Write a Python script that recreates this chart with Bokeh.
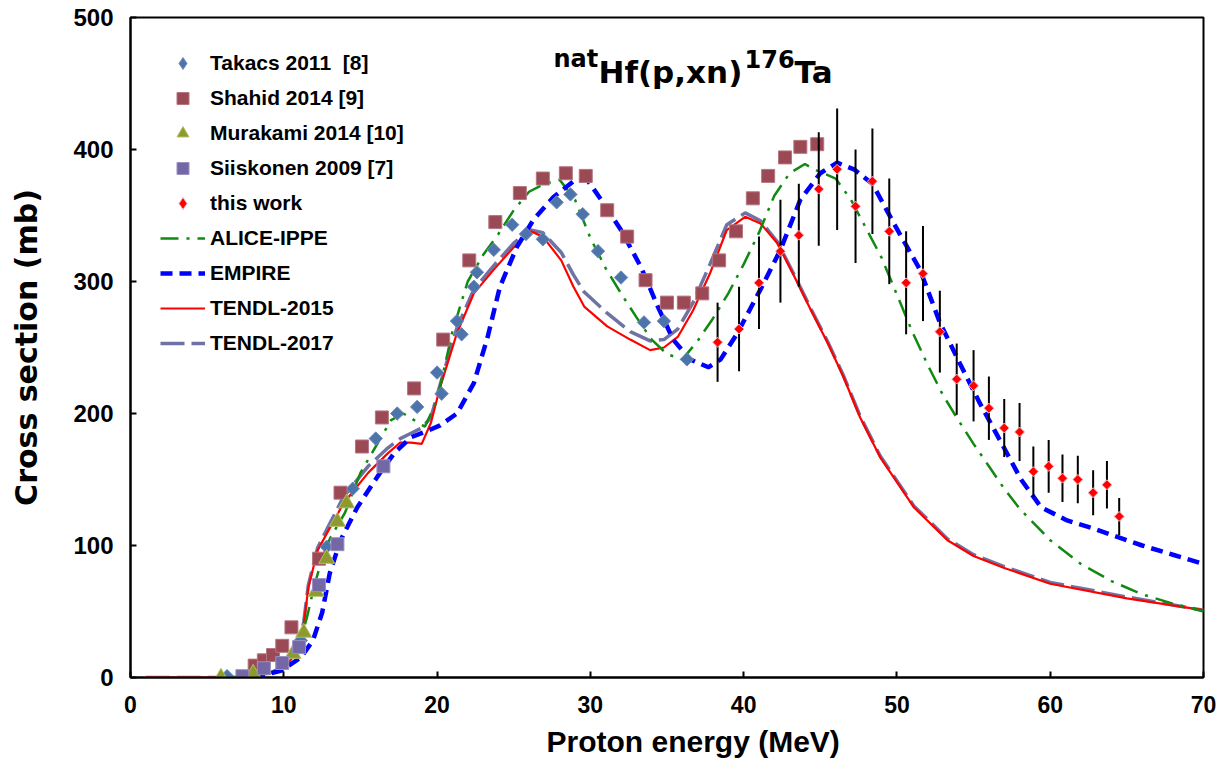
import math
from bokeh.plotting import figure
from bokeh.models import Legend, LegendItem, Label, Range1d, FixedTicker, Title
from bokeh.embed import file_html
from bokeh.resources import INLINE

# ---------------- data ----------------
x_ticks = [0, 10, 20, 30, 40, 50, 60, 70]
y_ticks = [0, 100, 200, 300, 400, 500]

takacs_E = [6.3, 11.1, 12.8, 14.5, 16.0, 17.4, 18.7, 20.0, 20.3, 21.3, 21.6, 22.4, 22.6, 23.7,
            24.9, 25.8, 26.9, 27.8, 28.7, 29.5, 30.5, 32.0, 33.5, 34.8, 36.3]
takacs_s = [1, 28, 99, 143, 181, 200, 205, 231, 215, 270, 260, 296, 307, 324,
            343, 336, 332, 360, 366, 351, 323, 303, 269, 270, 241]

shahid_E = [8.1, 8.7, 9.3, 9.9, 10.5, 12.3, 13.7, 15.1, 16.4, 18.5, 20.4, 22.1, 23.8, 25.4, 26.9,
            28.4, 29.7, 31.1, 32.4, 33.6, 35.0, 36.1, 37.3, 38.4, 39.5, 40.6, 41.6, 42.7, 43.7, 44.8]
shahid_s = [9, 13, 17, 24, 38, 90, 140, 175, 197, 219, 256, 316, 345, 367, 378,
            382, 380, 354, 334, 301, 284, 284, 291, 316, 338, 363, 380, 394, 402, 404]

murakami_E = [5.9, 8.0, 10.6, 11.3, 12.1, 12.8, 13.5, 14.1]
murakami_s = [0, 3, 18, 34, 65, 90, 118, 132]

siiskonen_E = [7.3, 8.7, 9.9, 11.0, 12.3, 13.5, 16.5]
siiskonen_s = [1, 7, 11, 23, 70, 101, 160]

this_E = [38.3, 39.7, 41.0, 42.4, 43.6, 44.9, 46.1, 47.3, 48.4, 49.5, 50.6, 51.7, 52.8,
          53.9, 55.0, 56.0, 57.0, 58.0, 58.9, 59.9, 60.8, 61.8, 62.8, 63.7, 64.5]
this_s = [254, 264, 299, 323, 335, 370, 385, 357, 376, 338, 299, 306, 262,
          226, 221, 204, 189, 186, 156, 160, 151, 150, 140, 146, 122]
this_err = [30, 32, 35, 39, 39, 43, 46, 43, 40, 40, 39, 36, 31,
            27, 27, 24, 22, 22, 19, 20, 18, 18, 17, 18, 14]

alice_E = [6, 8, 9, 10, 11, 11.5, 12, 12.5, 13, 14, 15, 16, 17, 17.8, 18.5, 19.2, 20, 21, 22, 23,
           24, 25, 26, 27, 28, 29, 30, 31, 32, 33, 34, 35, 36, 37, 38, 39, 40, 41, 42, 43, 44,
           44.6, 46, 47, 48, 49, 50, 51, 52, 53, 54, 55, 56, 57, 58, 59, 60, 62, 64, 66, 68, 70]
alice_s = [0, 1, 3, 8, 25, 45, 70, 90, 105, 125, 155, 175, 195, 200, 195, 190, 210, 262, 300, 320,
           336, 354, 368, 374, 377, 362, 333, 310, 291, 273, 256, 245, 241, 255, 272, 291, 313, 337,
           365, 382, 389, 385, 378, 362, 340, 318, 290, 262, 237, 214, 195, 177, 160, 143, 128, 116,
           104, 86, 73, 63, 56, 50]

empire_E = [8, 9.8, 11.1, 11.9, 12.5, 13.0, 13.7, 14.8, 16.1, 17.2, 18.3, 19.2, 20.2, 21.3, 22.4,
            23.3, 24.1, 25.2, 26.3, 27.6, 28.9, 29.8, 30.7, 32.0, 33.3, 34.4, 35.4, 36.5, 37.7,
            38.5, 39.6, 41.1, 42.4, 43.7, 45.0, 46.1, 47.2, 48.4, 49.8, 51.5, 52.8, 54.1, 55.4,
            56.8, 58.1, 59.4, 61.1, 62.8, 64.0, 66.0, 68.0, 70.0]
empire_s = [0, 5, 15, 28, 49, 79, 104, 129, 152, 170, 182, 186, 191, 200, 223,
            258, 296, 326, 347, 364, 376, 377, 362, 339, 311, 281, 256, 241, 235,
            241, 261, 294, 324, 362, 382, 390, 385, 374, 344, 309, 269, 238, 208,
            178, 150, 129, 119, 113, 108, 100, 93, 86]

tendl_E = [1, 6, 8, 9, 10, 10.5, 11, 11.3, 11.6, 12.2, 12.8, 13.9, 15.5, 16.8, 17.6, 18.3, 19.0,
           19.6, 20.2, 21.3, 22.4, 23.7, 25.0, 26.1, 26.9, 28.1, 28.9, 29.6, 31.1, 32.6, 33.9,
           34.8, 35.7, 36.7, 37.8, 38.9, 40.1, 41.1, 42.2, 43.3, 44.4, 45.5, 46.5, 47.6, 48.9,
           51.1, 53.3, 55, 57, 60, 65, 70]
tendl15_s = [0, 0, 1, 3, 8, 14, 25, 40, 68, 96, 109, 132, 155, 170, 178, 178, 177,
             193, 220, 261, 291, 309, 326, 338, 334, 316, 296, 281, 266, 256, 248,
             250, 258, 278, 306, 339, 349, 344, 329, 304, 278, 253, 228, 197, 167,
             129, 104, 92, 83, 71, 60, 51]
tendl17_s = [0, 0, 1, 3, 8, 14, 25, 42, 70, 98, 112, 137, 160, 174, 181, 185, 189,
             197, 222, 265, 294, 312, 329, 339, 337, 322, 305, 292, 276, 262, 255,
             256, 264, 284, 313, 343, 352, 346, 330, 305, 279, 254, 229, 198, 168,
             130, 105, 93, 84, 72, 61, 51]

FONT = "Liberation Sans"

p = figure(width=1228, height=775, output_backend="svg", toolbar_location=None,
           x_range=Range1d(0, 70), y_range=Range1d(0, 500),
           min_border_left=130, min_border_right=25, min_border_top=17, min_border_bottom=98)
p.grid.visible = False
p.outline_line_color = "black"
p.outline_line_width = 2
p.background_fill_color = "white"
p.border_fill_color = "white"

for ax, ticks in ((p.xaxis, x_ticks), (p.yaxis, y_ticks)):
    ax.ticker = FixedTicker(ticks=ticks)
    ax.axis_line_width = 2
    ax.axis_line_color = "black"
    ax.major_tick_in = 6
    ax.major_tick_out = 0
    ax.major_tick_line_width = 2
    ax.minor_tick_line_color = None
    ax.major_label_text_font = FONT
    ax.major_label_text_font_style = "bold"
    ax.major_label_text_color = "black"
    ax.axis_label_text_font_style = "bold"
    ax.axis_label_text_color = "black"

p.xaxis.major_label_text_font_size = "23px"
p.xaxis.major_label_standoff = 18
p.yaxis.major_label_text_font_size = "24px"
p.yaxis.major_label_standoff = 17
p.yaxis.axis_label = "Cross section (mb)"
p.yaxis.axis_label_text_font = "DejaVu Sans"
p.yaxis.axis_label_text_font_size = "30px"
p.yaxis.axis_label_standoff = 26

# x-axis title, set slightly right of centre as in the original
p.add_layout(Title(text="Proton energy (MeV)", align="left", offset=416, standoff=14,
                   text_font=FONT, text_font_style="bold", text_font_size="30px",
                   text_color="black"), "below")

# ---------- model curves ----------
r_t17 = p.line(tendl_E, tendl17_s, line_color="#6F73A3", line_width=3.5, line_dash="24 7")
r_t15 = p.line(tendl_E, tendl15_s, line_color="#FF0000", line_width=2.2)
r_alice = p.line(alice_E, alice_s, line_color="#118A11", line_width=2.5, line_dash="18 8 3 8")
r_emp = p.line(empire_E, empire_s, line_color="#0000FF", line_width=4.5, line_dash="12 7")

# ---------- experimental ----------
TAK_FILL, TAK_LINE = "#4D74AA", "#6D8CBD"
r_tak = p.scatter(takacs_E, takacs_s, marker="diamond", size=12,
                  fill_color=TAK_FILL, line_color=TAK_LINE, line_width=1)
p.scatter(takacs_E, takacs_s, marker="square", angle=math.pi / 4, size=9.5,
          fill_color=TAK_FILL, line_color=TAK_LINE, line_width=1)
r_sha = p.scatter(shahid_E, shahid_s, marker="square", size=13,
                  fill_color="#9B4A55", line_color="#B47580", line_width=1)
r_mur = p.scatter(murakami_E, murakami_s, marker="triangle", size=16,
                  fill_color="#8E9A2C", line_color="#B3BE66", line_width=1)
r_sii = p.scatter(siiskonen_E, siiskonen_s, marker="square", size=13,
                  fill_color="#7467A6", line_color="#9A90C2", line_width=1)

lo = [s - e for s, e in zip(this_s, this_err)]
hi = [s + e for s, e in zip(this_s, this_err)]
p.segment(this_E, lo, this_E, hi, line_color="black", line_width=2)
r_this = p.scatter(this_E, this_s, marker="diamond", size=9,
                   fill_color="#FF0000", line_color="#F0B0C0", line_width=1)
p.scatter(this_E, this_s, marker="square", angle=math.pi / 4, size=7,
          fill_color="#FF0000", line_color="#F0B0C0", line_width=1)

legend = Legend(items=[
    LegendItem(label="Takacs 2011  [8]", renderers=[r_tak]),
    LegendItem(label="Shahid 2014 [9]", renderers=[r_sha]),
    LegendItem(label="Murakami 2014 [10]", renderers=[r_mur]),
    LegendItem(label="Siiskonen 2009 [7]", renderers=[r_sii]),
    LegendItem(label="this work", renderers=[r_this]),
    LegendItem(label="ALICE-IPPE", renderers=[r_alice]),
    LegendItem(label="EMPIRE", renderers=[r_emp]),
    LegendItem(label="TENDL-2015", renderers=[r_t15]),
    LegendItem(label="TENDL-2017", renderers=[r_t17]),
], location=(30, 319))
legend.label_text_font = FONT
legend.label_text_font_style = "bold"
legend.label_text_font_size = "21px"
legend.label_text_color = "black"
legend.glyph_width = 45
legend.glyph_height = 30
legend.label_height = 30
legend.spacing = 5
legend.padding = 0
legend.margin = 0
legend.label_standoff = 5
legend.border_line_alpha = 0
legend.background_fill_alpha = 0
p.add_layout(legend)

# ---------- title with superscripts ----------
tx = (553 - 130) * 70 / 1073
ty = (677 - 71) * 500 / 660
TF = "DejaVu Sans"
parts = [("nat", 24, 0, 13), ("Hf(p,xn)", 31, 45, 0), ("176", 24, 191, 13), ("Ta", 31, 241, 0)]
for txt, fs, xo, yo in parts:
    p.add_layout(Label(x=tx, y=ty, x_offset=xo, y_offset=yo, text=txt,
                       text_font=TF, text_font_style="bold", text_font_size=f"{fs}px",
                       text_color="black", text_baseline="alphabetic", text_align="left"))

open("out.html", "w").write(file_html(p, INLINE))
